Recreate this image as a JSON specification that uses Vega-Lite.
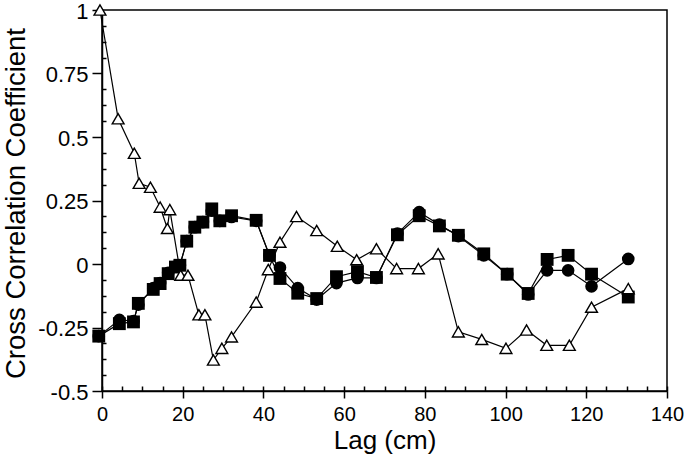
{
  "$schema": "https://vega.github.io/schema/vega-lite/v6.json",
  "width": 565,
  "height": 381,
  "autosize": {"type": "none"},
  "padding": {"left": 102, "top": 10, "right": 18, "bottom": 74},
  "background": "white",
  "config": {
    "view": {"stroke": "black", "strokeWidth": 1.5},
    "font": "Liberation Sans",
    "axis": {"grid": false, "labelFont": "Liberation Sans", "titleFont": "Liberation Sans", "labelColor": "black", "titleColor": "black", "titleFontWeight": "normal"}
  },
  "data": {
    "values": [
      {"series": "tri", "lag": -0.5, "r": 1.0},
      {"series": "tri", "lag": 4, "r": 0.572},
      {"series": "tri", "lag": 8, "r": 0.436},
      {"series": "tri", "lag": 9.2, "r": 0.318},
      {"series": "tri", "lag": 12, "r": 0.302},
      {"series": "tri", "lag": 14.4, "r": 0.224},
      {"series": "tri", "lag": 16.8, "r": 0.214},
      {"series": "tri", "lag": 16.2, "r": 0.14},
      {"series": "tri", "lag": 19.5, "r": -0.044},
      {"series": "tri", "lag": 21.3, "r": -0.044},
      {"series": "tri", "lag": 24, "r": -0.2},
      {"series": "tri", "lag": 25.5, "r": -0.2},
      {"series": "tri", "lag": 27.6, "r": -0.378},
      {"series": "tri", "lag": 29.7, "r": -0.332},
      {"series": "tri", "lag": 32.1, "r": -0.287},
      {"series": "tri", "lag": 38.2, "r": -0.15},
      {"series": "tri", "lag": 41.2, "r": -0.022},
      {"series": "tri", "lag": 44.1, "r": 0.086},
      {"series": "tri", "lag": 48.2, "r": 0.187},
      {"series": "tri", "lag": 53.2, "r": 0.132},
      {"series": "tri", "lag": 58.3, "r": 0.07},
      {"series": "tri", "lag": 63.1, "r": 0.017},
      {"series": "tri", "lag": 68, "r": 0.06},
      {"series": "tri", "lag": 73, "r": -0.018},
      {"series": "tri", "lag": 78.4, "r": -0.018},
      {"series": "tri", "lag": 83.3, "r": 0.04},
      {"series": "tri", "lag": 88.3, "r": -0.267},
      {"series": "tri", "lag": 94.1, "r": -0.297},
      {"series": "tri", "lag": 100.1, "r": -0.332},
      {"series": "tri", "lag": 105.2, "r": -0.26},
      {"series": "tri", "lag": 110.2, "r": -0.32},
      {"series": "tri", "lag": 115.8, "r": -0.32},
      {"series": "tri", "lag": 121.3, "r": -0.17},
      {"series": "tri", "lag": 130.4, "r": -0.097},

      {"series": "ci", "lag": -0.8, "r": -0.284},
      {"series": "ci", "lag": 4.3, "r": -0.22},
      {"series": "ci", "lag": 7.8, "r": -0.225},
      {"series": "ci", "lag": 9, "r": -0.16},
      {"series": "ci", "lag": 12.7, "r": -0.095},
      {"series": "ci", "lag": 14.4, "r": -0.075},
      {"series": "ci", "lag": 16.4, "r": -0.035},
      {"series": "ci", "lag": 18.2, "r": -0.01},
      {"series": "ci", "lag": 19.3, "r": -0.005},
      {"series": "ci", "lag": 21, "r": 0.09},
      {"series": "ci", "lag": 23, "r": 0.145},
      {"series": "ci", "lag": 25, "r": 0.165},
      {"series": "ci", "lag": 27.2, "r": 0.21},
      {"series": "ci", "lag": 29.2, "r": 0.17},
      {"series": "ci", "lag": 32.1, "r": 0.185},
      {"series": "ci", "lag": 38.2, "r": 0.17},
      {"series": "ci", "lag": 41.5, "r": 0.034},
      {"series": "ci", "lag": 44.1, "r": -0.014},
      {"series": "ci", "lag": 48.5, "r": -0.095},
      {"series": "ci", "lag": 53.2, "r": -0.14},
      {"series": "ci", "lag": 58.1, "r": -0.075},
      {"series": "ci", "lag": 63.3, "r": -0.055},
      {"series": "ci", "lag": 68, "r": -0.055},
      {"series": "ci", "lag": 73.2, "r": 0.12},
      {"series": "ci", "lag": 78.6, "r": 0.204},
      {"series": "ci", "lag": 83.6, "r": 0.155},
      {"series": "ci", "lag": 88.3, "r": 0.11},
      {"series": "ci", "lag": 94.6, "r": 0.034},
      {"series": "ci", "lag": 100.4, "r": -0.04},
      {"series": "ci", "lag": 105.6, "r": -0.12},
      {"series": "ci", "lag": 110.3, "r": -0.025},
      {"series": "ci", "lag": 115.5, "r": -0.025},
      {"series": "ci", "lag": 121.3, "r": -0.088},
      {"series": "ci", "lag": 130.4, "r": 0.02},

      {"series": "sq", "lag": -0.8, "r": -0.284},
      {"series": "sq", "lag": 4.3, "r": -0.235},
      {"series": "sq", "lag": 7.8, "r": -0.228},
      {"series": "sq", "lag": 9, "r": -0.155},
      {"series": "sq", "lag": 12.7, "r": -0.1},
      {"series": "sq", "lag": 14.4, "r": -0.077},
      {"series": "sq", "lag": 16.4, "r": -0.038},
      {"series": "sq", "lag": 18.2, "r": -0.012},
      {"series": "sq", "lag": 19.3, "r": -0.005},
      {"series": "sq", "lag": 21, "r": 0.09},
      {"series": "sq", "lag": 23, "r": 0.145},
      {"series": "sq", "lag": 25, "r": 0.165},
      {"series": "sq", "lag": 27.2, "r": 0.217},
      {"series": "sq", "lag": 29.2, "r": 0.17},
      {"series": "sq", "lag": 32.1, "r": 0.19},
      {"series": "sq", "lag": 38.2, "r": 0.172},
      {"series": "sq", "lag": 41.5, "r": 0.034},
      {"series": "sq", "lag": 44.1, "r": -0.057},
      {"series": "sq", "lag": 48.5, "r": -0.115},
      {"series": "sq", "lag": 53.2, "r": -0.136},
      {"series": "sq", "lag": 58.1, "r": -0.05},
      {"series": "sq", "lag": 63.3, "r": -0.03},
      {"series": "sq", "lag": 68, "r": -0.053},
      {"series": "sq", "lag": 73.2, "r": 0.115},
      {"series": "sq", "lag": 78.6, "r": 0.19},
      {"series": "sq", "lag": 83.6, "r": 0.15},
      {"series": "sq", "lag": 88.3, "r": 0.113},
      {"series": "sq", "lag": 94.6, "r": 0.04},
      {"series": "sq", "lag": 100.4, "r": -0.04},
      {"series": "sq", "lag": 105.6, "r": -0.116},
      {"series": "sq", "lag": 110.3, "r": 0.018},
      {"series": "sq", "lag": 115.5, "r": 0.034},
      {"series": "sq", "lag": 121.3, "r": -0.04},
      {"series": "sq", "lag": 130.4, "r": -0.13}
    ]
  },
  "resolve": {"axis": {"x": "independent", "y": "independent"}},
  "layer": [
    {
      "mark": {"type": "line", "color": "black", "strokeWidth": 1.2},
      "encoding": {
        "x": {"field": "lag", "type": "quantitative", "scale": {"domain": [0, 140], "nice": false, "zero": false},
          "axis": {"orient": "bottom", "values": [0, 20, 40, 60, 80, 100, 120, 140], "title": "Lag (cm)", "titleFontSize": 26, "labelFontSize": 20, "tickSize": 7, "tickWidth": 1.5, "tickColor": "black", "domainColor": "black", "domainWidth": 1.5, "labelPadding": 6, "titleY": 49, "titleBaseline": "middle", "labelFlush": false}},
        "y": {"field": "r", "type": "quantitative", "scale": {"domain": [-0.5, 1], "nice": false, "zero": false},
          "axis": {"orient": "left", "values": [-0.5, -0.25, 0, 0.25, 0.5, 0.75, 1], "labelExpr": "'' + datum.value", "title": "Cross Correlation Coefficient", "titleFontSize": 27.5, "labelFontSize": 22, "labelBaseline": "alphabetic", "labelOffset": 8, "tickSize": 10, "tickWidth": 1.5, "tickColor": "black", "domainColor": "black", "domainWidth": 1.5, "labelPadding": 4, "titleX": -86, "titleY": 193, "titleBaseline": "middle", "titleAngle": -90, "labelFlush": false}},
        "detail": {"field": "series", "type": "nominal"}
      }
    },
    {
      "transform": [{"filter": "datum.series == 'ci'"}],
      "mark": {"type": "point", "shape": "circle", "filled": true, "color": "black", "size": 160, "opacity": 1},
      "encoding": {
        "x": {"field": "lag", "type": "quantitative",
          "axis": {"orient": "bottom", "values": [0, 5, 10, 15, 20, 25, 30, 35, 40, 45, 50, 55, 60, 65, 70, 75, 80, 85, 90, 95, 100, 105, 110, 115, 120, 125, 130, 135, 140], "labels": false, "title": null, "domain": false, "tickSize": -5, "tickWidth": 1.5, "tickColor": "black"}},
        "y": {"field": "r", "type": "quantitative",
          "axis": {"orient": "left", "values": [-0.4375, -0.375, -0.3125, -0.1875, -0.125, -0.0625, 0.0625, 0.125, 0.1875, 0.3125, 0.375, 0.4375, 0.5625, 0.625, 0.6875, 0.8125, 0.875, 0.9375], "labels": false, "title": null, "domain": false, "tickSize": -4, "tickWidth": 1.5, "tickColor": "black"}}
      }
    },
    {
      "transform": [{"filter": "datum.series == 'sq'"}],
      "mark": {"type": "point", "shape": "square", "filled": true, "color": "black", "size": 165, "opacity": 1},
      "encoding": {
        "x": {"field": "lag", "type": "quantitative", "axis": null},
        "y": {"field": "r", "type": "quantitative", "axis": null}
      }
    },
    {
      "transform": [{"filter": "datum.series == 'tri'"}],
      "mark": {"type": "point", "shape": "triangle-up", "filled": true, "fill": "white", "stroke": "black", "strokeWidth": 1.4, "size": 140, "opacity": 1},
      "encoding": {
        "x": {"field": "lag", "type": "quantitative", "axis": null},
        "y": {"field": "r", "type": "quantitative", "axis": null}
      }
    }
  ]
}
